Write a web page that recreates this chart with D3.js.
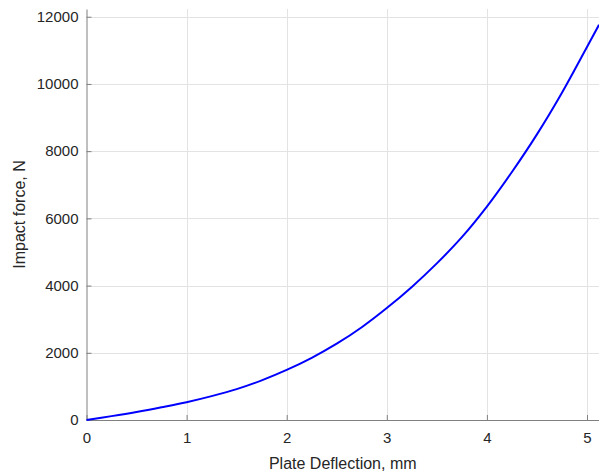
<!DOCTYPE html>
<html>
<head>
<meta charset="utf-8">
<script src="https://cdn.jsdelivr.net/npm/d3@7"></script>
<style>
  body { margin: 0; background: #fff; }
  text { font-family: "Liberation Sans", Arial, sans-serif; fill: #262626; }
</style>
</head>
<body>
<div id="chart"></div>
<script>
(function () {

  var w = 599;
  var h = 474;

  // plate deflection (mm) and impact force (N)
  var deflection = [0, 0.25, 0.5, 0.75, 1, 1.25, 1.5, 1.75, 2, 2.25, 2.5, 2.75, 3,
                    3.25, 3.5, 3.75, 4, 4.25, 4.5, 4.75, 5, 5.12];
  var force = [0, 115, 240, 380, 530, 710, 920, 1180, 1490, 1850, 2270, 2760, 3330,
               3960, 4660, 5440, 6350, 7380, 8500, 9740, 11100, 11760];

  var xTicks = [0, 1, 2, 3, 4, 5];
  var yTicks = [0, 2000, 4000, 6000, 8000, 10000, 12000];

  var margin = { top: 9, right: 0, bottom: 54, left: 86.5 };

  var x = d3.scaleLinear()
    .domain([0, 5.12])
    .range([margin.left, w - margin.right]);

  var y = d3.scaleLinear()
    .domain([0, 12230])
    .range([h - margin.bottom, margin.top]);

  var svg = d3.select("#chart")
    .append("svg")
    .attr("width", w)
    .attr("height", h);

  // grid
  svg.append("g")
    .selectAll("line")
    .data(xTicks.slice(1))
    .enter()
    .append("line")
    .attr("x1", function (d) { return Math.round(x(d)) + 0.5; })
    .attr("x2", function (d) { return Math.round(x(d)) + 0.5; })
    .attr("y1", y.range()[0])
    .attr("y2", y.range()[1])
    .style("stroke", "#e3e3e3");

  svg.append("g")
    .selectAll("line")
    .data(yTicks.slice(1))
    .enter()
    .append("line")
    .attr("x1", x.range()[0])
    .attr("x2", x.range()[1])
    .attr("y1", function (d) { return Math.round(y(d)) + 0.5; })
    .attr("y2", function (d) { return Math.round(y(d)) + 0.5; })
    .style("stroke", "#e3e3e3");

  // axes (ticks point inward)
  var xAxis = svg.append("g")
    .attr("transform", "translate(0," + (h - margin.bottom) + ")")
    .call(d3.axisBottom(x).tickValues(xTicks).tickSize(-5).tickPadding(12).tickSizeOuter(0)
      .tickFormat(d3.format("d")));

  var yAxis = svg.append("g")
    .attr("transform", "translate(" + margin.left + ",0)")
    .call(d3.axisLeft(y).tickValues(yTicks).tickSize(-5).tickPadding(8).tickSizeOuter(0)
      .tickFormat(d3.format("d")));

  [xAxis, yAxis].forEach(function (g) {
    g.select(".domain").style("stroke", "#808080");
    g.selectAll(".tick line").style("stroke", "#808080");
    g.selectAll(".tick text")
      .style("font-size", "15px")
      .style("fill", "#262626")
      .style("font-family", "'Liberation Sans', Arial, sans-serif");
  });

  // curve
  var line = d3.line()
    .x(function (d, i) { return x(deflection[i]); })
    .y(function (d) { return y(d); })
    .curve(d3.curveCatmullRom);

  svg.append("path")
    .datum(force)
    .attr("d", line)
    .style("fill", "none")
    .style("stroke", "#0000ff")
    .style("stroke-width", 2);

  // labels
  svg.append("text")
    .attr("x", (x.range()[0] + x.range()[1]) / 2)
    .attr("y", 469)
    .attr("text-anchor", "middle")
    .style("font-size", "16px")
    .text("Plate Deflection, mm");

  svg.append("text")
    .attr("transform", "translate(25," + ((y.range()[0] + y.range()[1]) / 2) + ") rotate(-90)")
    .attr("text-anchor", "middle")
    .style("font-size", "16px")
    .text("Impact force, N");

})();
</script>
</body>
</html>
